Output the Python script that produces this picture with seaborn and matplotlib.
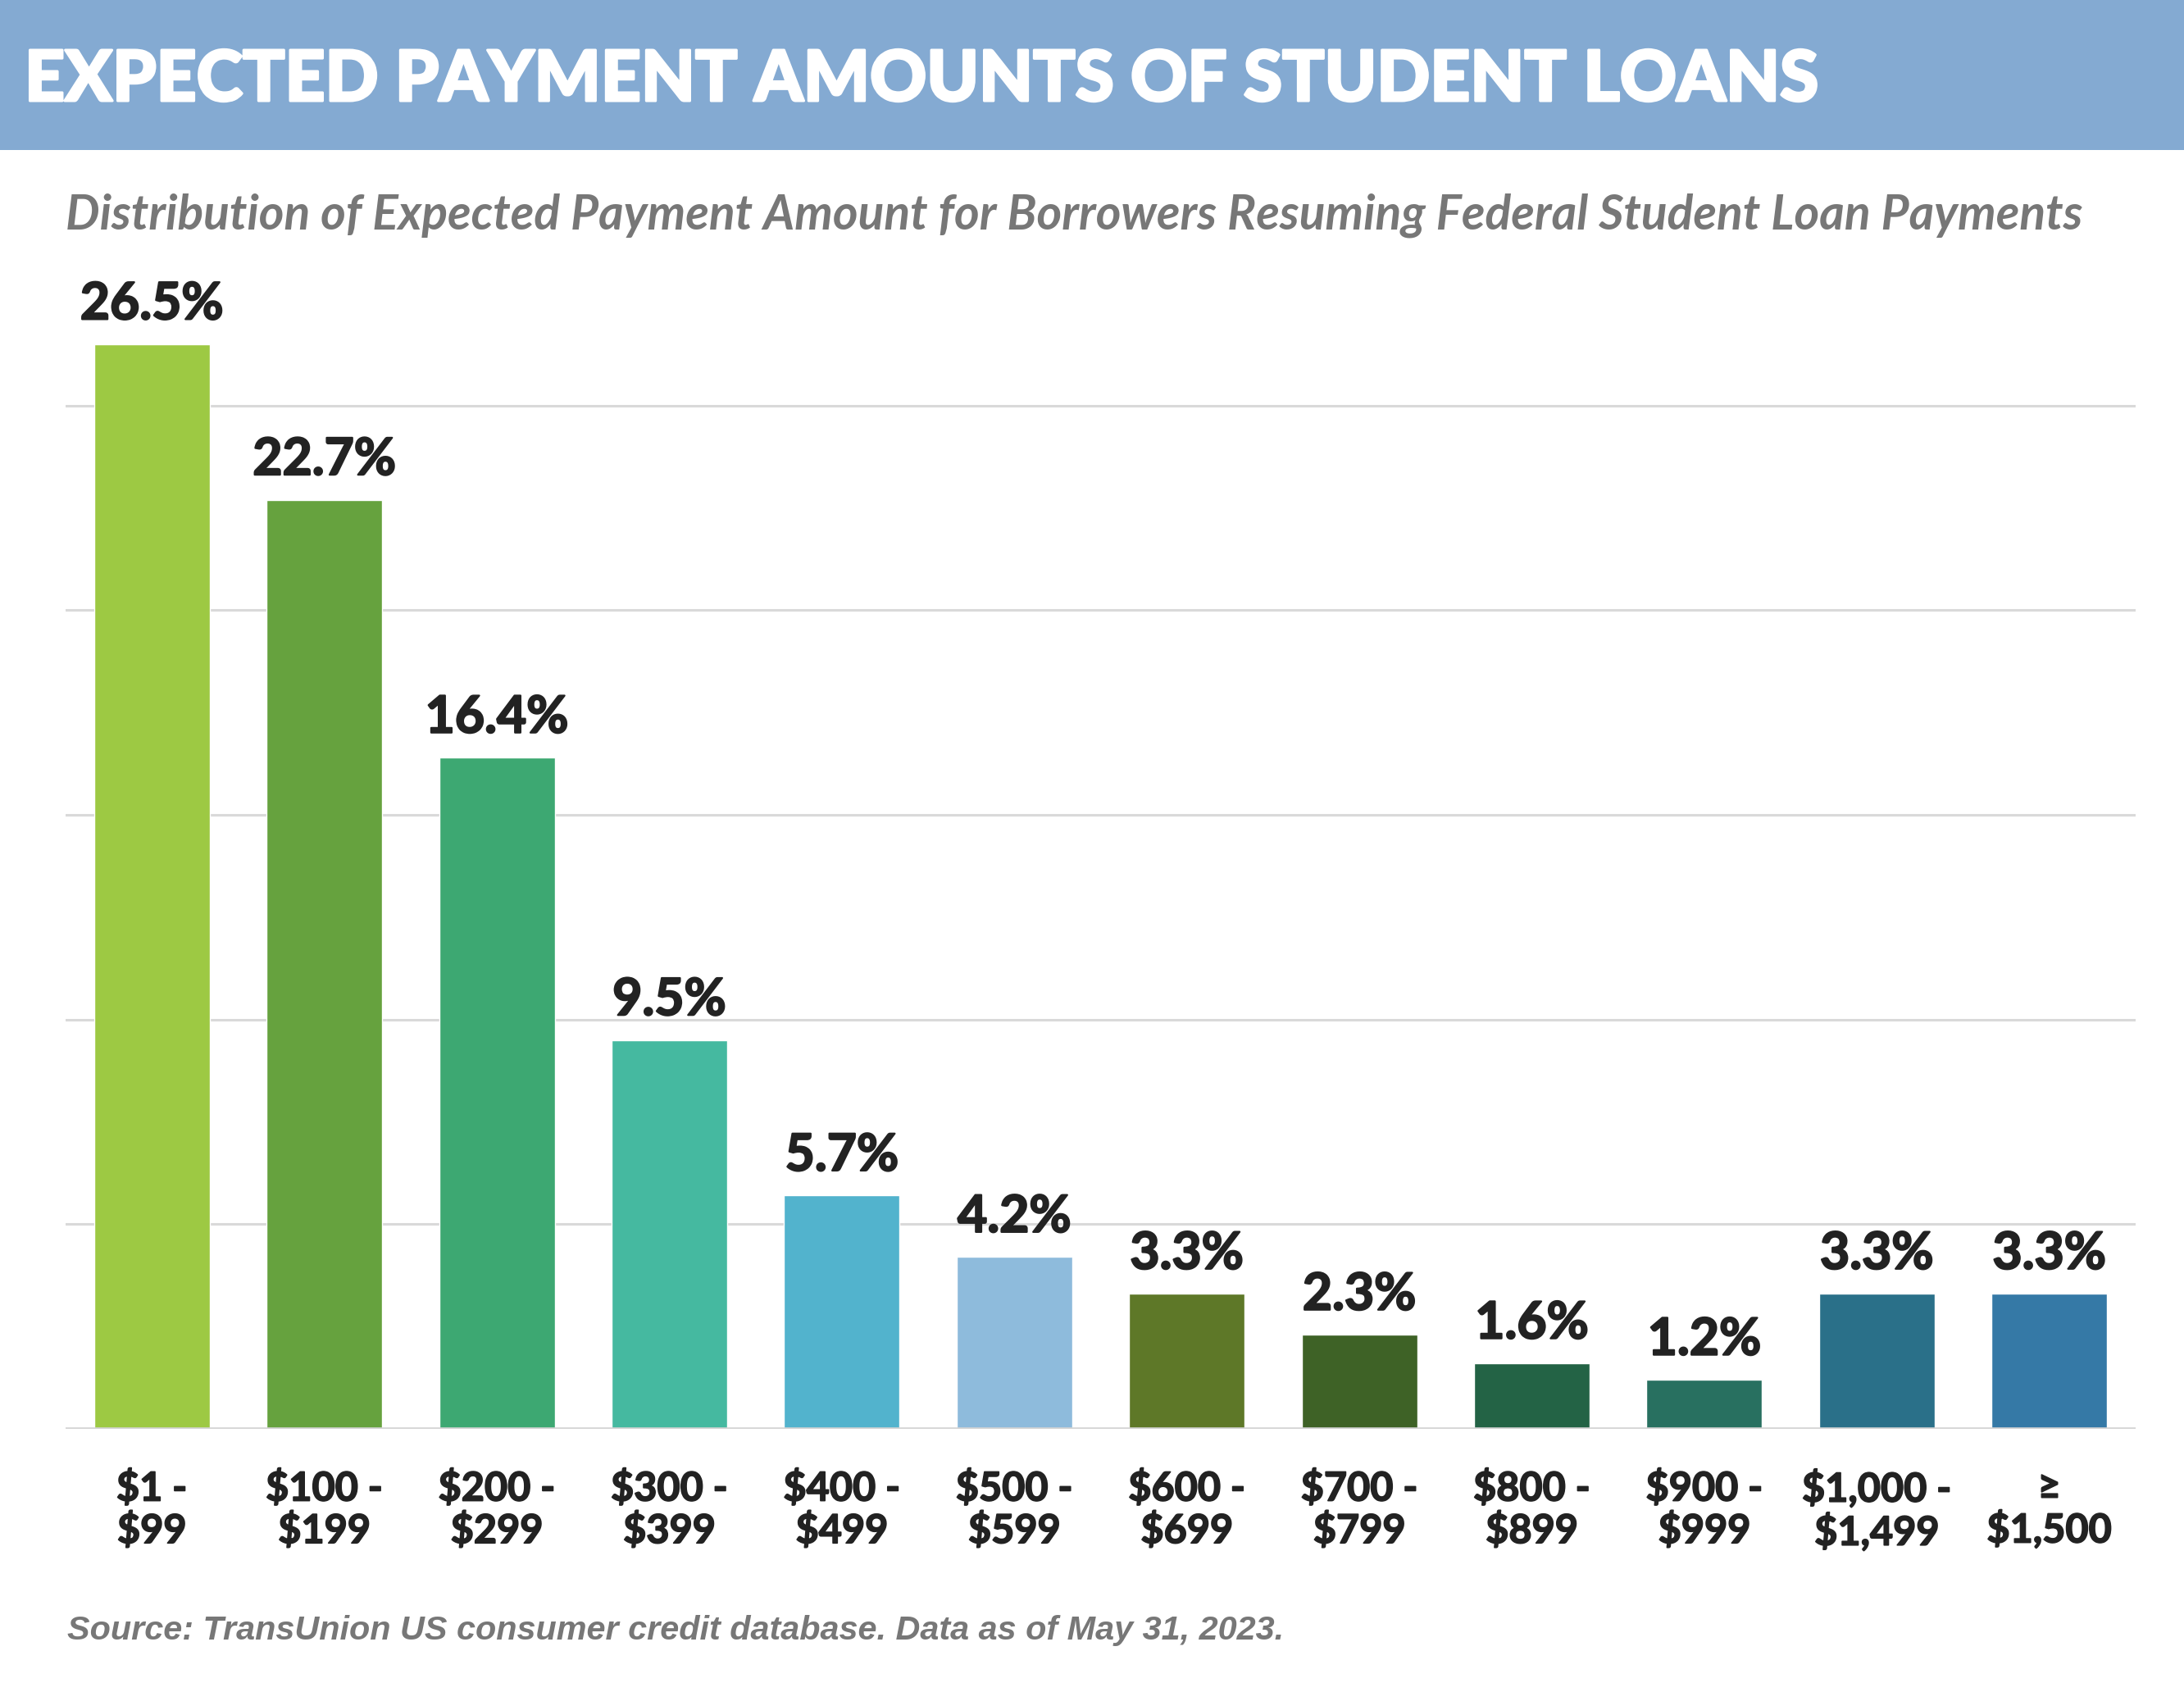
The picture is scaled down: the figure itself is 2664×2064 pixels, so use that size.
import matplotlib
matplotlib.use("Agg")
import matplotlib.pyplot as plt
from matplotlib.patches import Rectangle
import matplotlib.patheffects as pe
import seaborn as sns
import pandas as pd

# Payment buckets and share of borrowers (%)
categories = ["$1 -\n$99", "$100 -\n$199", "$200 -\n$299", "$300 -\n$399",
              "$400 -\n$499", "$500 -\n$599", "$600 -\n$699", "$700 -\n$799",
              "$800 -\n$899", "$900 -\n$999", "$1,000 -\n$1,499", "≥\n$1,500"]
shares = [26.5, 22.7, 16.4, 9.5, 5.7, 4.2, 3.3, 2.3, 1.6, 1.2, 3.3, 3.3]
bar_colors = ["#9DC943", "#66A23E", "#3DA872", "#45B9A0", "#52B3CD", "#8EBBDC",
              "#5E7828", "#3E6226", "#236345", "#287060", "#2A7089", "#3579A6"]

title = "EXPECTED PAYMENT AMOUNTS OF STUDENT LOANS"
subtitle = "Distribution of Expected Payment Amount for Borrowers Resuming Federal Student Loan Payments"
source = "Source: TransUnion US consumer credit database. Data as of May 31, 2023."

sns.set_theme(style="white")
plt.rcParams["font.family"] = ["Lato", "DejaVu Sans"]

df = pd.DataFrame({"bucket": categories, "share": shares})

W, H = 2664, 2064
fig = plt.figure(figsize=(W / 100, H / 100), dpi=100)
fig.patch.set_facecolor("white")


def heavy(color, w):
    """Stroke glyph outlines in their own colour to get a heavier weight."""
    return [pe.withStroke(linewidth=w, foreground=color)]


# Header band
band_h = 183 / H
fig.patches.append(Rectangle((0, 1 - band_h), 1, band_h, transform=fig.transFigure,
                             facecolor="#84AAD2", edgecolor="none", zorder=0))
fig.text(30 / W, 1 - 123 / H, title, color="white", fontsize=61.5, fontweight="black",
         family=["Lato", "DejaVu Sans"], ha="left", va="baseline",
         path_effects=heavy("white", 2.2))
fig.text(80 / W, 1 - 280 / H, subtitle, color="#777777", fontsize=42.3,
         fontweight="bold", fontstyle="italic", family=["Lato", "DejaVu Sans"],
         ha="left", va="baseline")
fig.text(82 / W, 1 - 2000 / H, source, color="#777777", fontsize=29.8,
         fontweight="bold", fontstyle="italic", family=["Liberation Sans", "DejaVu Sans"],
         ha="left", va="baseline")

ax = fig.add_axes([80 / W, 1 - 1743 / H, (2605 - 80) / W, (1743 - 295) / H])
sns.barplot(data=df, x="bucket", y="share", hue="bucket", palette=bar_colors,
            legend=False, width=0.67, saturation=1, ax=ax, zorder=3)

ax.set_xlim(-0.5, len(categories) - 0.5)
ax.set_ylim(0, 29)
ax.set_yticks([5, 10, 15, 20, 25])
ax.yaxis.grid(True, color="#d9d9d9", linewidth=2.2)
ax.set_axisbelow(True)
ax.axhline(0, color="#d4d4d4", linewidth=2.6, zorder=4)
for s in ax.spines.values():
    s.set_visible(False)
ax.tick_params(axis="y", left=False, labelleft=False)
ax.tick_params(axis="x", bottom=False, pad=29)
ax.set_xlabel("")
ax.set_ylabel("")
for lbl in ax.get_xticklabels():
    lbl.set_fontsize(35)
    lbl.set_fontweight("bold")
    lbl.set_color("#222222")
    lbl.set_linespacing(1.12)
    lbl.set_verticalalignment("top")
    lbl.set_path_effects(heavy("#222222", 1.2))

for container in ax.containers:
    ax.bar_label(container, labels=[f"{v.get_height():.1f}%" for v in container],
                 padding=14, fontsize=45, fontweight="bold", color="#222222",
                 path_effects=heavy("#222222", 1.6))

fig.savefig("out.png", dpi=100, facecolor="white")
